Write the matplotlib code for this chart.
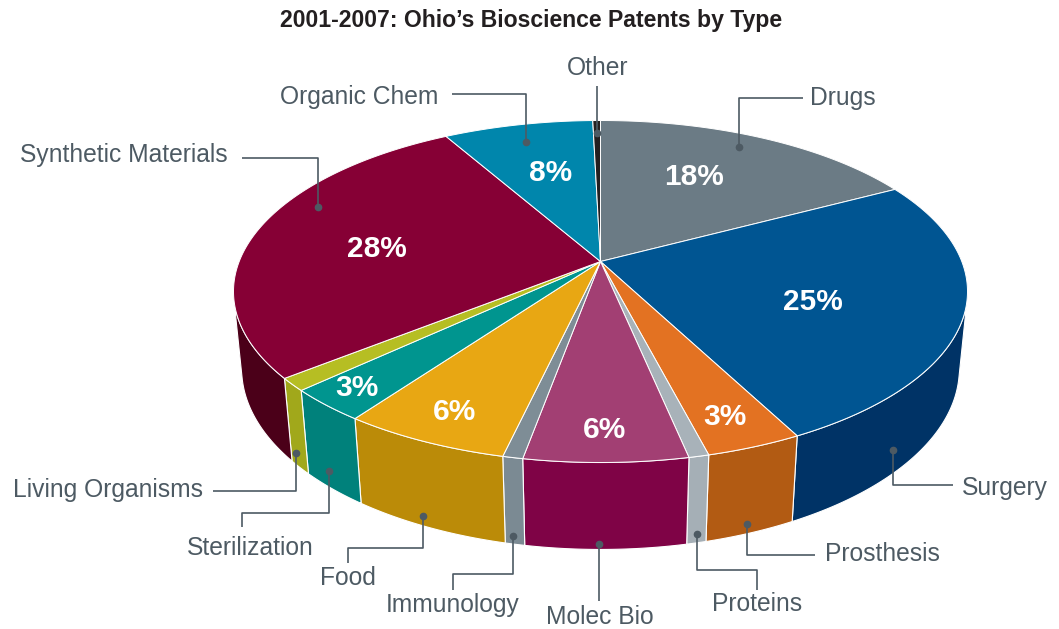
import numpy as np
import matplotlib
matplotlib.use("Agg")
import matplotlib.pyplot as plt
from matplotlib.patches import Polygon

# ---------------- data ----------------
categories = ['Drugs', 'Surgery', 'Prosthesis', 'Proteins', 'Molec Bio', 'Immunology',
              'Food', 'Sterilization', 'Living Organisms', 'Synthetic Materials',
              'Organic Chem', 'Other']
shares = [17.2, 25.2, 3.6, 0.75, 6.1, 0.75, 6.3, 3.1, 1.2, 27.6, 7.8, 0.4]
pct_labels = ['18%', '25%', '3%', '', '6%', '', '6%', '3%', '', '28%', '8%', '']
title = "2001-2007: Ohio\u2019s Bioscience Patents by Type"

# ---------------- style ----------------
top_colors = ['#6b7b85', '#005592', '#e37222', '#a8b2b9', '#a23f73', '#7e8d96',
              '#e8a713', '#00958f', '#b6be23', '#860035', '#0086ac', '#231f20']
wall_colors = ['#58666f', '#003366', '#b25b13', '#a5afb6', '#7f0346', '#7b8a93',
               '#bb8b08', '#00817b', '#a1a81b', '#4b0019', '#006f8f', '#111111']
text_col = '#4d5a63'

# projection parameters (pixel space)
cx, cy = 600.5, 261.5
s_a, c_a = 0.4587, 0.8886
D, F, H = 5.065, 1830.0, 0.2431


def project(X, Y, Z):
    v = Y * s_a + Z * c_a
    w = Y * c_a - Z * s_a
    k = F / (D + w)
    return cx + X * k, cy - v * k


def ring(phi_deg, r=1.0, z=0.0):
    ph = np.radians(phi_deg)
    return project(r * np.sin(ph), r * np.cos(ph), z)


# label layout: anchor (fraction within slice, radius, wall depth fraction or None),
# leader path waypoints, text position, alignment
label_layout = {
    'Drugs':              dict(a=(0.47, 0.90, None), path=[('v', 98), ('h', 803)], txt=(810, 98), ha='left'),
    'Surgery':            dict(a=(0.79, 1.0, 0.70), path=[('v', 485), ('h', 953)], txt=(962, 488), ha='left'),
    'Prosthesis':         dict(a=(0.55, 1.0, 0.88), path=[('v', 555), ('h', 815)], txt=(825, 554), ha='left'),
    'Proteins':           dict(a=(0.50, 1.0, 0.90), path=[('v', 570), ('h', 757), ('v', 590)], txt=(757, 604), ha='center'),
    'Molec Bio':          dict(a=(0.54, 1.0, 0.93), path=[('v', 601)], txt=(600, 617), ha='center'),
    'Immunology':         dict(a=(0.60, 1.0, 0.90), path=[('v', 574), ('h', 453), ('v', 590)], txt=(453, 605), ha='center'),
    'Food':               dict(a=(0.53, 1.0, 0.88), path=[('v', 548), ('h', 348), ('v', 563)], txt=(348, 578), ha='center'),
    'Sterilization':      dict(a=(0.56, 1.0, 0.80), path=[('v', 513), ('h', 242), ('v', 527)], txt=(250, 548), ha='center'),
    'Living Organisms':   dict(a=(0.69, 1.0, 0.85), path=[('v', 491), ('h', 213)], txt=(203, 490), ha='right'),
    'Synthetic Materials': dict(a=(0.62, 0.90, None), path=[('v', 158), ('h', 242)], txt=(228, 155), ha='right'),
    'Organic Chem':       dict(a=(0.48, 0.86, None), path=[('v', 94), ('h', 452)], txt=(438, 97), ha='right'),
    'Other':              dict(a=(0.50, 0.90, None), path=[('v', 86)], txt=(598, 68), ha='center'),
}
pct_pos = [(694, 177), (813, 302), (725, 417), None, (605, 430), None,
           (455, 412), (357, 388), None, (377, 249), (551, 173), None]

# ---------------- figure ----------------
plt.rcParams['font.family'] = ['Liberation Sans', 'DejaVu Sans']
fig = plt.figure(figsize=(10.59, 6.29), dpi=100)
ax = fig.add_axes([0, 0, 1, 1])
ax.set_xlim(0, 1059)
ax.set_ylim(629, 0)
ax.axis('off')

vals = np.array(shares, dtype=float)
ang = np.concatenate([[0], np.cumsum(vals / vals.sum() * 360.0)])

# visible wall range
lim = np.degrees(np.arccos(-1.0 / (D * c_a)))
vis_lo, vis_hi = lim, 360 - lim

# walls
for i in range(len(vals)):
    a0, a1 = max(ang[i], vis_lo), min(ang[i + 1], vis_hi)
    if a1 <= a0:
        continue
    ph = np.linspace(a0, a1, 80)
    tx, ty = ring(ph)
    bx, by = ring(ph, 1.0, -H)
    pts = np.column_stack([np.concatenate([tx, bx[::-1]]), np.concatenate([ty, by[::-1]])])
    ax.add_patch(Polygon(pts, closed=True, facecolor=wall_colors[i], edgecolor='white',
                         linewidth=0.8, joinstyle='round', zorder=2))

# top faces
for i in range(len(vals)):
    ph = np.linspace(ang[i], ang[i + 1], max(4, int((ang[i + 1] - ang[i]) * 2)))
    tx, ty = ring(ph)
    pts = np.column_stack([np.concatenate([[cx], tx]), np.concatenate([[cy], ty])])
    ax.add_patch(Polygon(pts, closed=True, facecolor=top_colors[i], edgecolor='white',
                         linewidth=0.7, joinstyle='miter', zorder=3))

# percent labels
for i, lab in enumerate(pct_labels):
    if lab and pct_pos[i] is not None:
        ax.text(pct_pos[i][0], pct_pos[i][1], lab, color='white', fontsize=21.5,
                fontweight='bold', ha='center', va='center', zorder=5)

# leader lines and category labels
for i, name in enumerate(categories):
    L = label_layout[name]
    frac, r, t = L['a']
    phi = ang[i] + frac * (ang[i + 1] - ang[i])
    z = 0.0 if t is None else -t * H
    px, py = ring(phi, r, z)
    xs, ys = [px], [py]
    for kind, val in L['path']:
        if kind == 'v':
            xs.append(xs[-1]); ys.append(val)
        else:
            xs.append(val); ys.append(ys[-1])
    ax.plot(xs, ys, color=text_col, lw=1.2, zorder=6, solid_capstyle='butt')
    ax.plot([px], [py], 'o', color=text_col, ms=4.5, zorder=7)
    ax.text(L['txt'][0], L['txt'][1], name, color=text_col, fontsize=17.7,
            ha=L['ha'], va='center', zorder=6)

ax.text(531, 21, title, color='#231f20', fontsize=16.6, fontweight='bold',
        ha='center', va='center')

fig.savefig('out.png', dpi=100)
